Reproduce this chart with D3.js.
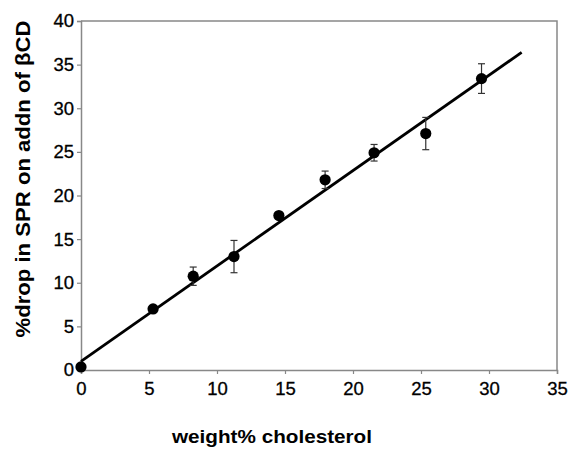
<!DOCTYPE html>
<html>
<head>
<meta charset="utf-8">
<script src="https://cdn.jsdelivr.net/npm/d3@7"></script>
<style>
  body { margin: 0; background: #fff; }
  text { font-family: "Liberation Sans", Arial, sans-serif; }
</style>
</head>
<body>
<div id="chart"></div>
<script>
// measured points (weight% cholesterol vs % drop in SPR)
var cholesterol = [0, 5.3, 8.25, 11.25, 14.55, 17.95, 21.55, 25.35, 29.45];
var spDrop = [0.35, 7.0, 10.75, 13.0, 17.7, 21.8, 24.9, 27.1, 33.4];
var spErr = [0, 0, 1.05, 1.85, 0, 1.0, 0.95, 1.85, 1.7];

// linear fit line end points
var fitX = [0, 32.4];
var fitY = [1.0, 36.4];

var xTicks = [0, 5, 10, 15, 20, 25, 30, 35];
var yTicks = [0, 5, 10, 15, 20, 25, 30, 35, 40];

function drawChart() {
  var W = 571, H = 450;
  var mLeft = 81, mTop = 21, mRight = 557, mBottom = 370;

  var svg = d3.select("#chart").append("svg")
    .attr("width", W).attr("height", H);

  var x = d3.scaleLinear().domain([0, 35]).range([mLeft, mRight]);
  var y = d3.scaleLinear().domain([0, 40]).range([mBottom, mTop]);

  // frame (top + right)
  svg.append("path")
    .attr("d", "M" + mLeft + "," + mTop + "H" + mRight + "V" + mBottom)
    .attr("fill", "none")
    .attr("stroke", "#888")
    .attr("stroke-width", 1.5);

  var xAxis = svg.append("g")
    .attr("transform", "translate(0," + mBottom + ")")
    .call(d3.axisBottom(x).tickValues(xTicks).tickSize(4).tickPadding(8));
  var yAxis = svg.append("g")
    .attr("transform", "translate(" + mLeft + ",0)")
    .call(d3.axisLeft(y).tickValues(yTicks).tickSize(4).tickPadding(3));

  [xAxis, yAxis].forEach(function (a) {
    a.select(".domain").attr("stroke", "#888").attr("stroke-width", 1.5);
    a.selectAll(".tick line").attr("stroke", "#888").attr("stroke-width", 1.2);
    a.selectAll(".tick text")
      .attr("fill", "#000")
      .attr("stroke", "#000")
      .attr("stroke-width", 0.3)
      .style("font-size", "18.5px");
  });

  // fit line
  var line = d3.line()
    .x(function (d) { return x(d[0]); })
    .y(function (d) { return y(d[1]); });
  svg.append("path")
    .datum(d3.zip(fitX, fitY))
    .attr("d", line)
    .attr("fill", "none")
    .attr("stroke", "#000")
    .attr("stroke-width", 2.8);

  var pts = cholesterol.map(function (c, i) {
    return { x: c, y: spDrop[i], e: spErr[i] };
  });

  // error bars
  var eb = svg.append("g").selectAll("g")
    .data(pts.filter(function (d) { return d.e > 0; }))
    .enter().append("g")
    .attr("stroke", "#333")
    .attr("stroke-width", 1.2);
  eb.append("line")
    .attr("x1", function (d) { return x(d.x); })
    .attr("x2", function (d) { return x(d.x); })
    .attr("y1", function (d) { return y(d.y - d.e); })
    .attr("y2", function (d) { return y(d.y + d.e); });
  eb.append("line")
    .attr("x1", function (d) { return x(d.x) - 3.5; })
    .attr("x2", function (d) { return x(d.x) + 3.5; })
    .attr("y1", function (d) { return y(d.y + d.e); })
    .attr("y2", function (d) { return y(d.y + d.e); });
  eb.append("line")
    .attr("x1", function (d) { return x(d.x) - 3.5; })
    .attr("x2", function (d) { return x(d.x) + 3.5; })
    .attr("y1", function (d) { return y(d.y - d.e); })
    .attr("y2", function (d) { return y(d.y - d.e); });

  svg.append("g").selectAll("circle")
    .data(pts)
    .enter().append("circle")
    .attr("cx", function (d) { return x(d.x); })
    .attr("cy", function (d) { return y(d.y); })
    .attr("r", 5.6)
    .attr("fill", "#000");

  // axis titles
  svg.append("text")
    .attr("x", 272).attr("y", 443)
    .attr("text-anchor", "middle")
    .attr("textLength", 200)
    .attr("lengthAdjust", "spacingAndGlyphs")
    .style("font-size", "19px")
    .style("font-weight", "bold")
    .text("weight% cholesterol");

  svg.append("text")
    .attr("transform", "translate(30,179) rotate(-90)")
    .attr("text-anchor", "middle")
    .attr("textLength", 317)
    .attr("lengthAdjust", "spacingAndGlyphs")
    .style("font-size", "20px")
    .style("font-weight", "bold")
    .text("%drop in SPR on addn of βCD");
}

drawChart();
</script>
</body>
</html>
